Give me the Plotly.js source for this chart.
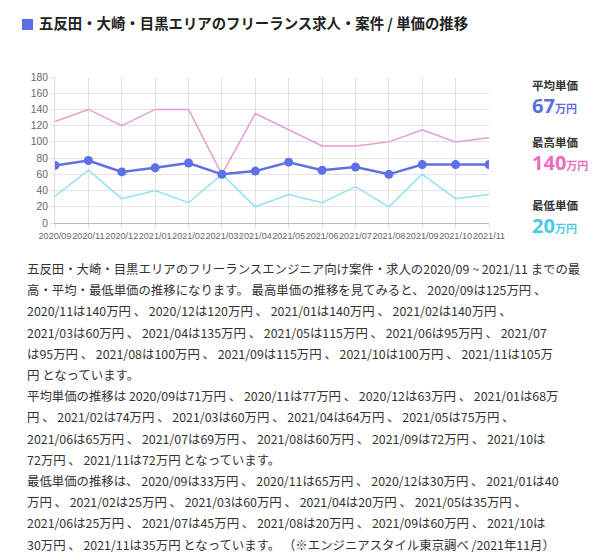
<!DOCTYPE html>
<html>
<head>
<meta charset="utf-8">
<script src="https://cdn.plot.ly/plotly-3.0.1.min.js"></script>
<style>
  body { margin: 0; background: #fff; width: 615px; height: 560px; overflow: hidden;
         font-family: "Noto Sans CJK JP", sans-serif; color: #333; }
  #title { position: absolute; left: 22px; top: 14px; font-size: 14.4px; font-weight: bold;
           color: #222; line-height: 18px; white-space: nowrap; }
  #title .sq { display: inline-block; width: 11px; height: 11px; background: #5b6ee8;
               margin-right: 6px; vertical-align: -1px; }
  #plot { position: absolute; left: 0; top: 60px; width: 615px; height: 190px; }
  .side { position: absolute; left: 532px; white-space: nowrap; }
  .side .lab { font-size: 11.5px; font-weight: bold; color: #333; line-height: 14px; height: 14px; margin-bottom: 4px; }
  .side .num { font-family: "Noto Sans", sans-serif; font-size: 20px; font-weight: bold; line-height: 20px; height: 20px; }
  .side .num small { font-family: "Noto Sans CJK JP", sans-serif; font-size: 11px; }
  #desc { position: absolute; left: 27px; top: 259px; font-size: 12.4px; line-height: 21.2px;
          white-space: nowrap; color: #333; }
</style>
</head>
<body>
<div id="title"><span class="sq"></span>五反田・大崎・目黒エリアのフリーランス求人・案件 / 単価の推移</div>
<div id="plot"></div>

<div class="side" style="top:78px"><div class="lab">平均単価</div><div class="num" style="color:#5a6ee0"><span id="avgNum"></span><small>万円</small></div></div>
<div class="side" style="top:135px"><div class="lab">最高単価</div><div class="num" style="color:#ee6cbf"><span id="maxNum"></span><small>万円</small></div></div>
<div class="side" style="top:198px"><div class="lab">最低単価</div><div class="num" style="color:#4ccbe5"><span id="minNum"></span><small>万円</small></div></div>

<div id="desc">
五反田・大崎・目黒エリアのフリーランスエンジニア向け案件・求人の2020/09 ~ 2021/11 までの最<br>
高・平均・最低単価の推移になります。 最高単価の推移を見てみると、 2020/09は125万円 、<br>
2020/11は140万円 、 2020/12は120万円 、 2021/01は140万円 、 2021/02は140万円 、<br>
2021/03は60万円 、 2021/04は135万円 、 2021/05は115万円 、 2021/06は95万円 、 2021/07<br>
は95万円 、 2021/08は100万円 、 2021/09は115万円 、 2021/10は100万円 、 2021/11は105万<br>
円 となっています。<br>
平均単価の推移は 2020/09は71万円 、 2020/11は77万円 、 2020/12は63万円 、 2021/01は68万<br>
円 、 2021/02は74万円 、 2021/03は60万円 、 2021/04は64万円 、 2021/05は75万円 、<br>
2021/06は65万円 、 2021/07は69万円 、 2021/08は60万円 、 2021/09は72万円 、 2021/10は<br>
72万円 、 2021/11は72万円 となっています。<br>
最低単価の推移は、 2020/09は33万円 、 2020/11は65万円 、 2020/12は30万円 、 2021/01は40<br>
万円 、 2021/02は25万円 、 2021/03は60万円 、 2021/04は20万円 、 2021/05は35万円 、<br>
2021/06は25万円 、 2021/07は45万円 、 2021/08は20万円 、 2021/09は60万円 、 2021/10は<br>
30万円 、 2021/11は35万円 となっています。 （※エンジニアスタイル東京調べ /2021年11月）
</div>

<script>
// 月ごとの単価 (万円)
var months = ['2020/09','2020/11','2020/12','2021/01','2021/02','2021/03','2021/04',
              '2021/05','2021/06','2021/07','2021/08','2021/09','2021/10','2021/11']
var maxVals = [125, 140, 120, 140, 140, 60, 135, 115, 95, 95, 100, 115, 100, 105]
var avgVals = [71, 77, 63, 68, 74, 60, 64, 75, 65, 69, 60, 72, 72, 72]
var minVals = [33, 65, 30, 40, 25, 60, 20, 35, 25, 45, 20, 60, 30, 35]

// 右側の数値
var avgSummary = 67
var maxSummary = 140
var minSummary = 20

document.getElementById('avgNum').textContent = avgSummary
document.getElementById('maxNum').textContent = maxSummary
document.getElementById('minNum').textContent = minSummary

var data = []
data.push({
  x: months, y: maxVals, type: 'scatter', mode: 'lines',
  line: {color: '#e99bd3', width: 1.5}, hoverinfo: 'none'
})
data.push({
  x: months, y: minVals, type: 'scatter', mode: 'lines',
  line: {color: '#92e3ec', width: 1.5}, hoverinfo: 'none'
})
data.push({
  x: months, y: avgVals, type: 'scatter', mode: 'lines+markers',
  line: {color: '#5d70e6', width: 2.5},
  marker: {color: '#5d70e6', size: 9},
  hoverinfo: 'none'
})

var layout = {
  width: 615, height: 190,
  margin: {l: 55.3, r: 125.7, t: 16.7, b: 26.7},
  showlegend: false,
  paper_bgcolor: 'rgba(0,0,0,0)',
  plot_bgcolor: 'rgba(0,0,0,0)',
  font: {family: '"Liberation Sans", Arial, sans-serif', size: 10, color: '#666'},
  xaxis: {
    type: 'category', range: [0, 13],
    showgrid: true, gridcolor: '#e3e3e3', gridwidth: 1,
    showline: true, linecolor: '#bbb', linewidth: 1,
    ticks: 'outside', ticklen: 4, tickcolor: '#e3e3e3',
    tickfont: {size: 9.1, color: '#666'}, tickangle: 0,
    zeroline: false, fixedrange: true
  },
  yaxis: {
    range: [0, 180], dtick: 20,
    showgrid: true, gridcolor: '#e3e3e3', gridwidth: 1,
    showline: true, linecolor: '#ddd', linewidth: 1,
    ticks: 'outside', ticklen: 4, tickcolor: '#e3e3e3',
    tickfont: {size: 10.3, color: '#666'},
    zeroline: false, fixedrange: true
  }
}

Plotly.newPlot('plot', data, layout, {displayModeBar: false, staticPlot: true})
</script>
</body>
</html>
